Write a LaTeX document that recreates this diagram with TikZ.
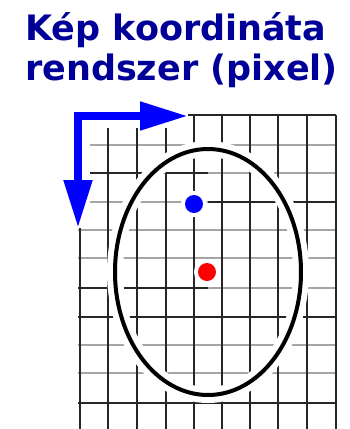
\documentclass[tikz,border=0pt]{standalone}
\usepackage{fontspec}
\setmainfont{DejaVu Sans}
\usetikzlibrary{arrows.meta}
\definecolor{titleblue}{RGB}{0,0,153}
\definecolor{gridgray}{RGB}{165,165,165}

\begin{document}
\begin{tikzpicture}[
    x=1pt, y=-1pt,
    title/.style={anchor=base west, inner sep=0pt, text=titleblue, font=\fontsize{35}{40}\selectfont\bfseries},
    hard/.style={line width=2.4pt, black!85},
    soft/.style={line width=2.8pt, gridgray},
    halo/.style={draw=white, line width=16pt},
    axis/.style={draw=blue, line width=8pt, line join=miter, {Triangle[length=48pt,width=27pt]}-{Triangle[length=48pt,width=27pt]}},
    dot/.style={circle, inner sep=0pt, minimum size=18pt, preaction={draw=white, line width=8pt}}
]
  \useasboundingbox (0,0) rectangle (350,429);

  % Title
  \node[title] (line1) at (25,40) {Kép koordináta};
  \node[title] (line2) at (25,80) {rendszer (pixel)};

  % Grid rows: y / start / left look / right look
  \foreach \y/\s/\l/\r in {115/188/hard/hard, 145/90/soft/soft, 173/90/hard/soft,
      202/90/soft/hard, 230/78/soft/soft, 258/78/soft/soft, 288/78/hard/soft,
      317/78/hard/hard, 345/78/soft/soft, 373/78/soft/soft, 403/78/hard/hard} {
    \draw[\l] (\s,\y) -- (208,\y);
    \draw[\r] (208,\y) -- (336,\y);
  }
  % Grid columns
  \draw[hard] (80,228) -- (80,429);
  \foreach \x in {108,137,166} \draw[hard] (\x,128) -- (\x,429);
  \foreach \x in {194,222,250,278,307,336} \draw[hard] (\x,115) -- (\x,429);

  % Ellipse
  \draw[halo] (208,272) ellipse [x radius=93, y radius=123];
  \draw[line width=4pt] (208,272) ellipse [x radius=93, y radius=123];

  % Points
  \node[dot, fill=blue] (upper) at (194,204) {};
  \node[dot, fill=red] (centre) at (207,272) {};

  % Axes
  \coordinate (corner) at (78,116);
  \coordinate (xtip) at (188,116);
  \coordinate (ytip) at (78,228);
  \draw[axis] (xtip) -- (corner) -- (ytip);
\end{tikzpicture}
\end{document}
